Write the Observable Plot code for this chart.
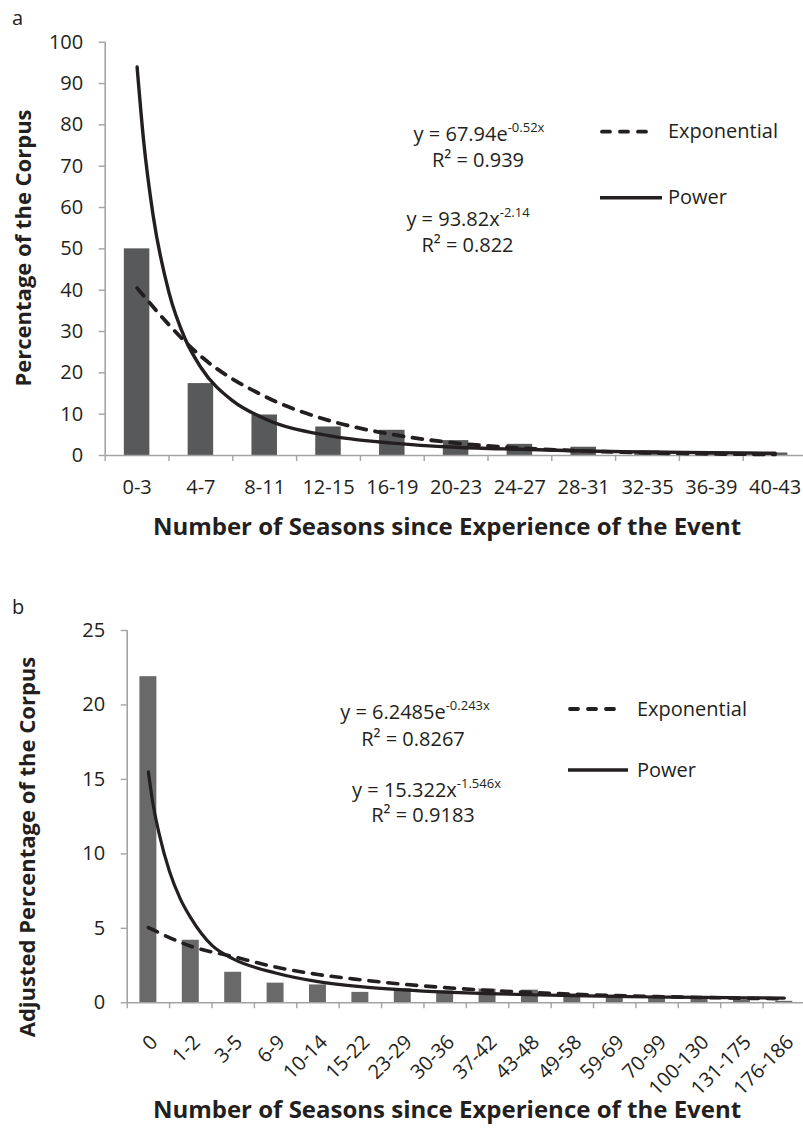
<!DOCTYPE html>
<html><head><meta charset="utf-8">
<script src="https://cdn.jsdelivr.net/npm/d3@7"></script>
<script src="https://cdn.jsdelivr.net/npm/@observablehq/plot@0.6"></script>
<style>
html,body{margin:0;padding:0;background:#fff;overflow:hidden;}
#wrap{position:relative;width:803px;height:1135px;font-family:"Open Sans",sans-serif;color:#231f20;overflow:hidden;}
#wrap svg.plot{position:absolute;left:0;}
.abs{position:absolute;white-space:nowrap;font-size:20px;line-height:1;}
.c{transform:translate(-50%,-50%);}
.l{transform:translate(0,-50%);}
.abs sup{font-size:13px;vertical-align:0;position:relative;top:-9px;}
</style></head><body><div id="wrap"></div>
<script>
// ---- Panel a ----
const catsA = ["0-3","4-7","8-11","12-15","16-19","20-23","24-27","28-31","32-35","36-39","40-43"];
const pctA  = [50.0, 17.4, 9.8, 6.9, 6.1, 3.6, 2.7, 2.0, 1.1, 0.9, 0.6];
const expAx = [1, 2, 3, 4, 5, 6, 7, 8, 9, 10, 11];
const expAy = [40.5, 24.0, 14.3, 8.5, 5.1, 3.0, 1.8, 1.1, 0.65, 0.4, 0.25];
const powAx = [1, 1.1, 1.25, 1.5, 1.75, 2, 2.5, 3, 4, 5, 6, 7, 8, 9, 10, 11];
const powAy = [94, 76.5, 58.2, 39.4, 28.3, 21.3, 13.2, 8.9, 4.8, 3.0, 2.0, 1.5, 1.1, 0.85, 0.7, 0.55];
const yTicksA = [0, 10, 20, 30, 40, 50, 60, 70, 80, 90, 100];

// ---- Panel b ----
const catsB = ["0","1-2","3-5","6-9","10-14","15-22","23-29","30-36","37-42","43-48","49-58","59-69","70-99","100-130","131-175","176-186"];
const pctB  = [21.9, 4.2, 2.05, 1.32, 1.2, 0.7, 0.95, 0.8, 0.92, 0.85, 0.6, 0.5, 0.32, 0.27, 0.2, 0.1];
const expBx = [1, 2, 3, 4, 5, 6, 7, 8, 9, 10, 11, 12, 13, 14, 15, 16];
const expBy = [5.05, 3.8, 3.1, 2.4, 1.9, 1.55, 1.25, 1.02, 0.84, 0.7, 0.58, 0.49, 0.42, 0.36, 0.31, 0.27];
const powBx = [1, 1.1, 1.25, 1.5, 1.75, 2, 2.5, 3, 4, 5, 6, 7, 8, 9, 10, 11, 12, 13, 14, 15, 16];
const powBy = [15.5, 13.5, 11.4, 8.8, 7.0, 5.7, 3.85, 2.95, 2.0, 1.42, 1.08, 0.87, 0.72, 0.62, 0.54, 0.48, 0.43, 0.39, 0.36, 0.34, 0.32];
const yTicksB = [0, 5, 10, 15, 20, 25];

const xTitle = "Number of Seasons since Experience of the Event";
const dark = "#231f20", gray = "#a3a3a3";

function panel(o) {
  const n = o.cats.length;
  const bars = o.cats.map((c, i) => ({i: i + 1, v: o.vals[i]}));
  const bounds = d3.range(n + 1).map(k => k + 0.5);
  const centers = d3.range(1, n + 1);
  const expD = o.ex.map((x, i) => ({x, y: o.ey[i]}));
  const powD = o.px.map((x, i) => ({x, y: o.py[i]}));
  return Plot.plot({
    width: 803, height: o.height,
    marginLeft: o.ml, marginRight: 0, marginTop: o.mt, marginBottom: o.mb,
    x: {type: "linear", domain: [0.5, n + 0.5], range: [o.ml, o.right], label: null},
    y: {domain: [0, o.yMax], label: null},
    style: {fontFamily: "'Open Sans', sans-serif", fontSize: "20px", color: dark, background: "white", overflow: "hidden"},
    marks: [
      Plot.rectY(bars, {x1: d => d.i - 0.2, x2: d => d.i + 0.2, y1: 0, y2: "v", fill: o.barColor}),
      Plot.ruleY([0], {stroke: gray, strokeWidth: 1.6}),
      Plot.ruleX([0.5], {stroke: gray, strokeWidth: 1.6}),
      Plot.axisY({ticks: o.yTicks, tickSize: 6, stroke: gray, strokeWidth: 1.4, tickFormat: () => ""}),
      Plot.axisY({ticks: o.yTicks, tickSize: 0, tickPadding: o.yPad, fill: dark, fontSize: 20}),
      Plot.axisX({ticks: bounds, tickSize: 6, stroke: gray, strokeWidth: 1.4, tickFormat: () => ""}),
      Plot.axisX({ticks: centers, tickSize: 0, tickPadding: o.xPad, tickRotate: o.rot, fill: dark, fontSize: 20,
                  dx: o.xdx, tickFormat: i => o.cats[i - 1]}),
      Plot.line(expD, {x: "x", y: "y", curve: "monotone-x", stroke: dark, strokeWidth: o.lw + 0.4,
                       strokeDasharray: "10,9", strokeLinecap: "round"}),
      Plot.line(powD, {x: "x", y: "y", curve: "monotone-x", stroke: dark, strokeWidth: o.lw}),
      Plot.text([o.yTitle], {frameAnchor: "top-left", dx: o.ytx - o.ml, dy: o.yty - o.mt, rotate: -90,
                             fontWeight: "bold", fontSize: 22, fill: dark, textAnchor: "middle", lineAnchor: "middle"}),
      Plot.text([xTitle], {frameAnchor: "top-left", dx: o.xtx - o.ml, dy: o.xty - o.mt,
                           fontWeight: "bold", fontSize: 24, fill: dark, textAnchor: "middle", lineAnchor: "middle"})
    ]
  });
}

const wrap = document.getElementById("wrap");

const svgA = panel({cats: catsA, vals: pctA, ex: expAx, ey: expAy, px: powAx, py: powAy,
  yMax: 100, yTicks: yTicksA, height: 580, ml: 104.7, right: 806.5, mt: 41.7, mb: 125,
  barColor: "#58595b", yPad: 22, xPad: 24, rot: 0, xdx: 0, lw: 3.4,
  yTitle: "Percentage of the Corpus", ytx: 23, yty: 247.5, xtx: 446.5, xty: 527});
svgA.classList.add("plot");
svgA.style.top = "0px";
wrap.appendChild(svgA);

const svgB = panel({cats: catsB, vals: pctB, ex: expBx, ey: expBy, px: powBx, py: powBy,
  yMax: 25, yTicks: yTicksB, height: 555, ml: 126.7, right: 805, mt: 50, mb: 132.7,
  barColor: "#696969", yPad: 22, xPad: 36, rot: -45, xdx: 6, lw: 3.2,
  yTitle: "Adjusted Percentage of the Corpus", ytx: 27, yty: 266.5, xtx: 446.5, xty: 530});
svgB.classList.add("plot");
svgB.style.top = "580px";
wrap.appendChild(svgB);

// annotations and legends
function add(html, cls, x, y) {
  const d = document.createElement("div");
  d.className = "abs " + cls;
  d.style.left = x + "px"; d.style.top = y + "px";
  d.innerHTML = html;
  wrap.appendChild(d);
}
function sample(x1, x2, y, dashed) {
  const s = document.createElementNS("http://www.w3.org/2000/svg", "svg");
  s.setAttribute("width", 803); s.setAttribute("height", 1135);
  s.style.position = "absolute"; s.style.left = "0"; s.style.top = "0"; s.style.pointerEvents = "none";
  const l = document.createElementNS("http://www.w3.org/2000/svg", "line");
  l.setAttribute("x1", x1); l.setAttribute("x2", x2); l.setAttribute("y1", y); l.setAttribute("y2", y);
  l.setAttribute("stroke", dark); l.setAttribute("stroke-width", dashed ? 3.8 : 3.4);
  if (dashed) { l.setAttribute("stroke-dasharray", "8,10"); l.setAttribute("stroke-linecap", "round"); }
  s.appendChild(l);
  wrap.appendChild(s);
}

add("a", "l", 12, 18);
add("b", "l", 12, 607);

add("y = 67.94e<sup>-0.52x</sup>", "c", 479, 134);
add("R² = 0.939", "c", 478, 160);
add("y = 93.82x<sup>-2.14</sup>", "c", 468, 219);
add("R² = 0.822", "c", 467.5, 245);
sample(602, 653, 131.7, true);
add("Exponential", "l", 668, 131);
sample(600, 662, 197.7, false);
add("Power", "l", 668, 197);

add("y = 6.2485e<sup>-0.243x</sup>", "c", 415, 712);
add("R² = 0.8267", "c", 413, 739);
add("y = 15.322x<sup>-1.546x</sup>", "c", 426.5, 790);
add("R² = 0.9183", "c", 423, 815);
sample(570, 622, 709, true);
add("Exponential", "l", 637, 709);
sample(568, 628, 770, false);
add("Power", "l", 637, 770);
</script></body></html>
